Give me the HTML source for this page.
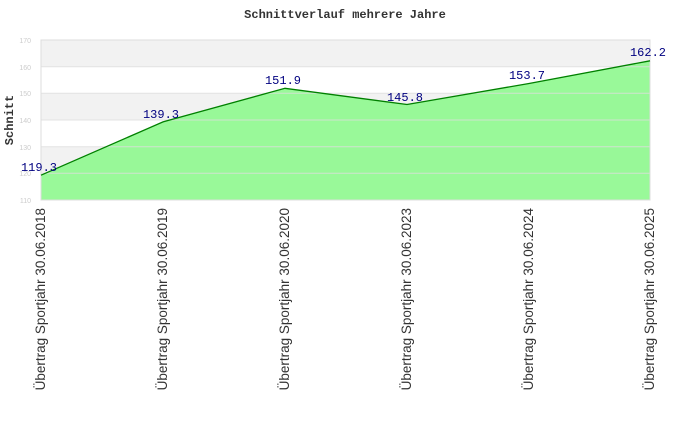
<!DOCTYPE html>
<html><head><meta charset="utf-8"><style>body{margin:0;background:#fff}</style></head>
<body>
<svg width="690" height="420" xmlns="http://www.w3.org/2000/svg">
<rect width="690" height="420" fill="#fff"/>
<text x="345" y="18" text-anchor="middle" font-family="Liberation Mono, monospace" font-weight="bold" font-size="12" fill="#333">Schnittverlauf mehrere Jahre</text>
<g>
<rect x="41" y="40" width="609" height="26.7" fill="#f2f2f2"/>
<rect x="41" y="93.3" width="609" height="26.7" fill="#f2f2f2"/>
<rect x="41" y="146.7" width="609" height="26.7" fill="#f2f2f2"/>
</g>
<polygon points="41,175.2 163,121.9 285,88.3 407,104.5 529,83.5 650,60.8 650,200 41,200" fill="#90f890" fill-opacity="0.92"/>
<g stroke="#ddd" stroke-width="1" opacity="0.8">
<line x1="41" y1="66.7" x2="650" y2="66.7"/><line x1="41" y1="93.3" x2="650" y2="93.3"/>
<line x1="41" y1="120" x2="650" y2="120"/><line x1="41" y1="146.7" x2="650" y2="146.7"/>
<line x1="41" y1="173.3" x2="650" y2="173.3"/>
</g>
<rect x="41" y="40" width="609" height="160" fill="none" stroke="#ddd"/>
<polyline points="41,175.2 163,121.9 285,88.3 407,104.5 529,83.5 650,60.8" fill="none" stroke="#008000" stroke-width="1.3"/>
<g font-family="Liberation Sans, sans-serif" font-size="7" fill="#ccc" text-anchor="end">
<text x="31" y="43">170</text><text x="31" y="70">160</text><text x="31" y="96">150</text>
<text x="31" y="123">140</text><text x="31" y="150">130</text><text x="31" y="176">120</text><text x="31" y="203">110</text>
</g>
<text transform="translate(13,120) rotate(-90)" text-anchor="middle" font-family="Liberation Mono, monospace" font-weight="bold" font-size="12" fill="#333">Schnitt</text>
<g font-family="Liberation Mono, monospace" font-size="12" fill="#000080" text-anchor="middle">
<text x="39" y="171">119.3</text><text x="161" y="118">139.3</text><text x="283" y="84">151.9</text>
<text x="405" y="101">145.8</text><text x="527" y="79">153.7</text><text x="648" y="56">162.2</text>
</g>
<g font-family="Liberation Sans, sans-serif" font-size="13.5" fill="#333" text-anchor="end">
<text transform="translate(45,208) rotate(-90)">Übertrag Sportjahr 30.06.2018</text>
<text transform="translate(167,208) rotate(-90)">Übertrag Sportjahr 30.06.2019</text>
<text transform="translate(289,208) rotate(-90)">Übertrag Sportjahr 30.06.2020</text>
<text transform="translate(411,208) rotate(-90)">Übertrag Sportjahr 30.06.2023</text>
<text transform="translate(533,208) rotate(-90)">Übertrag Sportjahr 30.06.2024</text>
<text transform="translate(654,208) rotate(-90)">Übertrag Sportjahr 30.06.2025</text>
</g>
</svg>
</body></html>
